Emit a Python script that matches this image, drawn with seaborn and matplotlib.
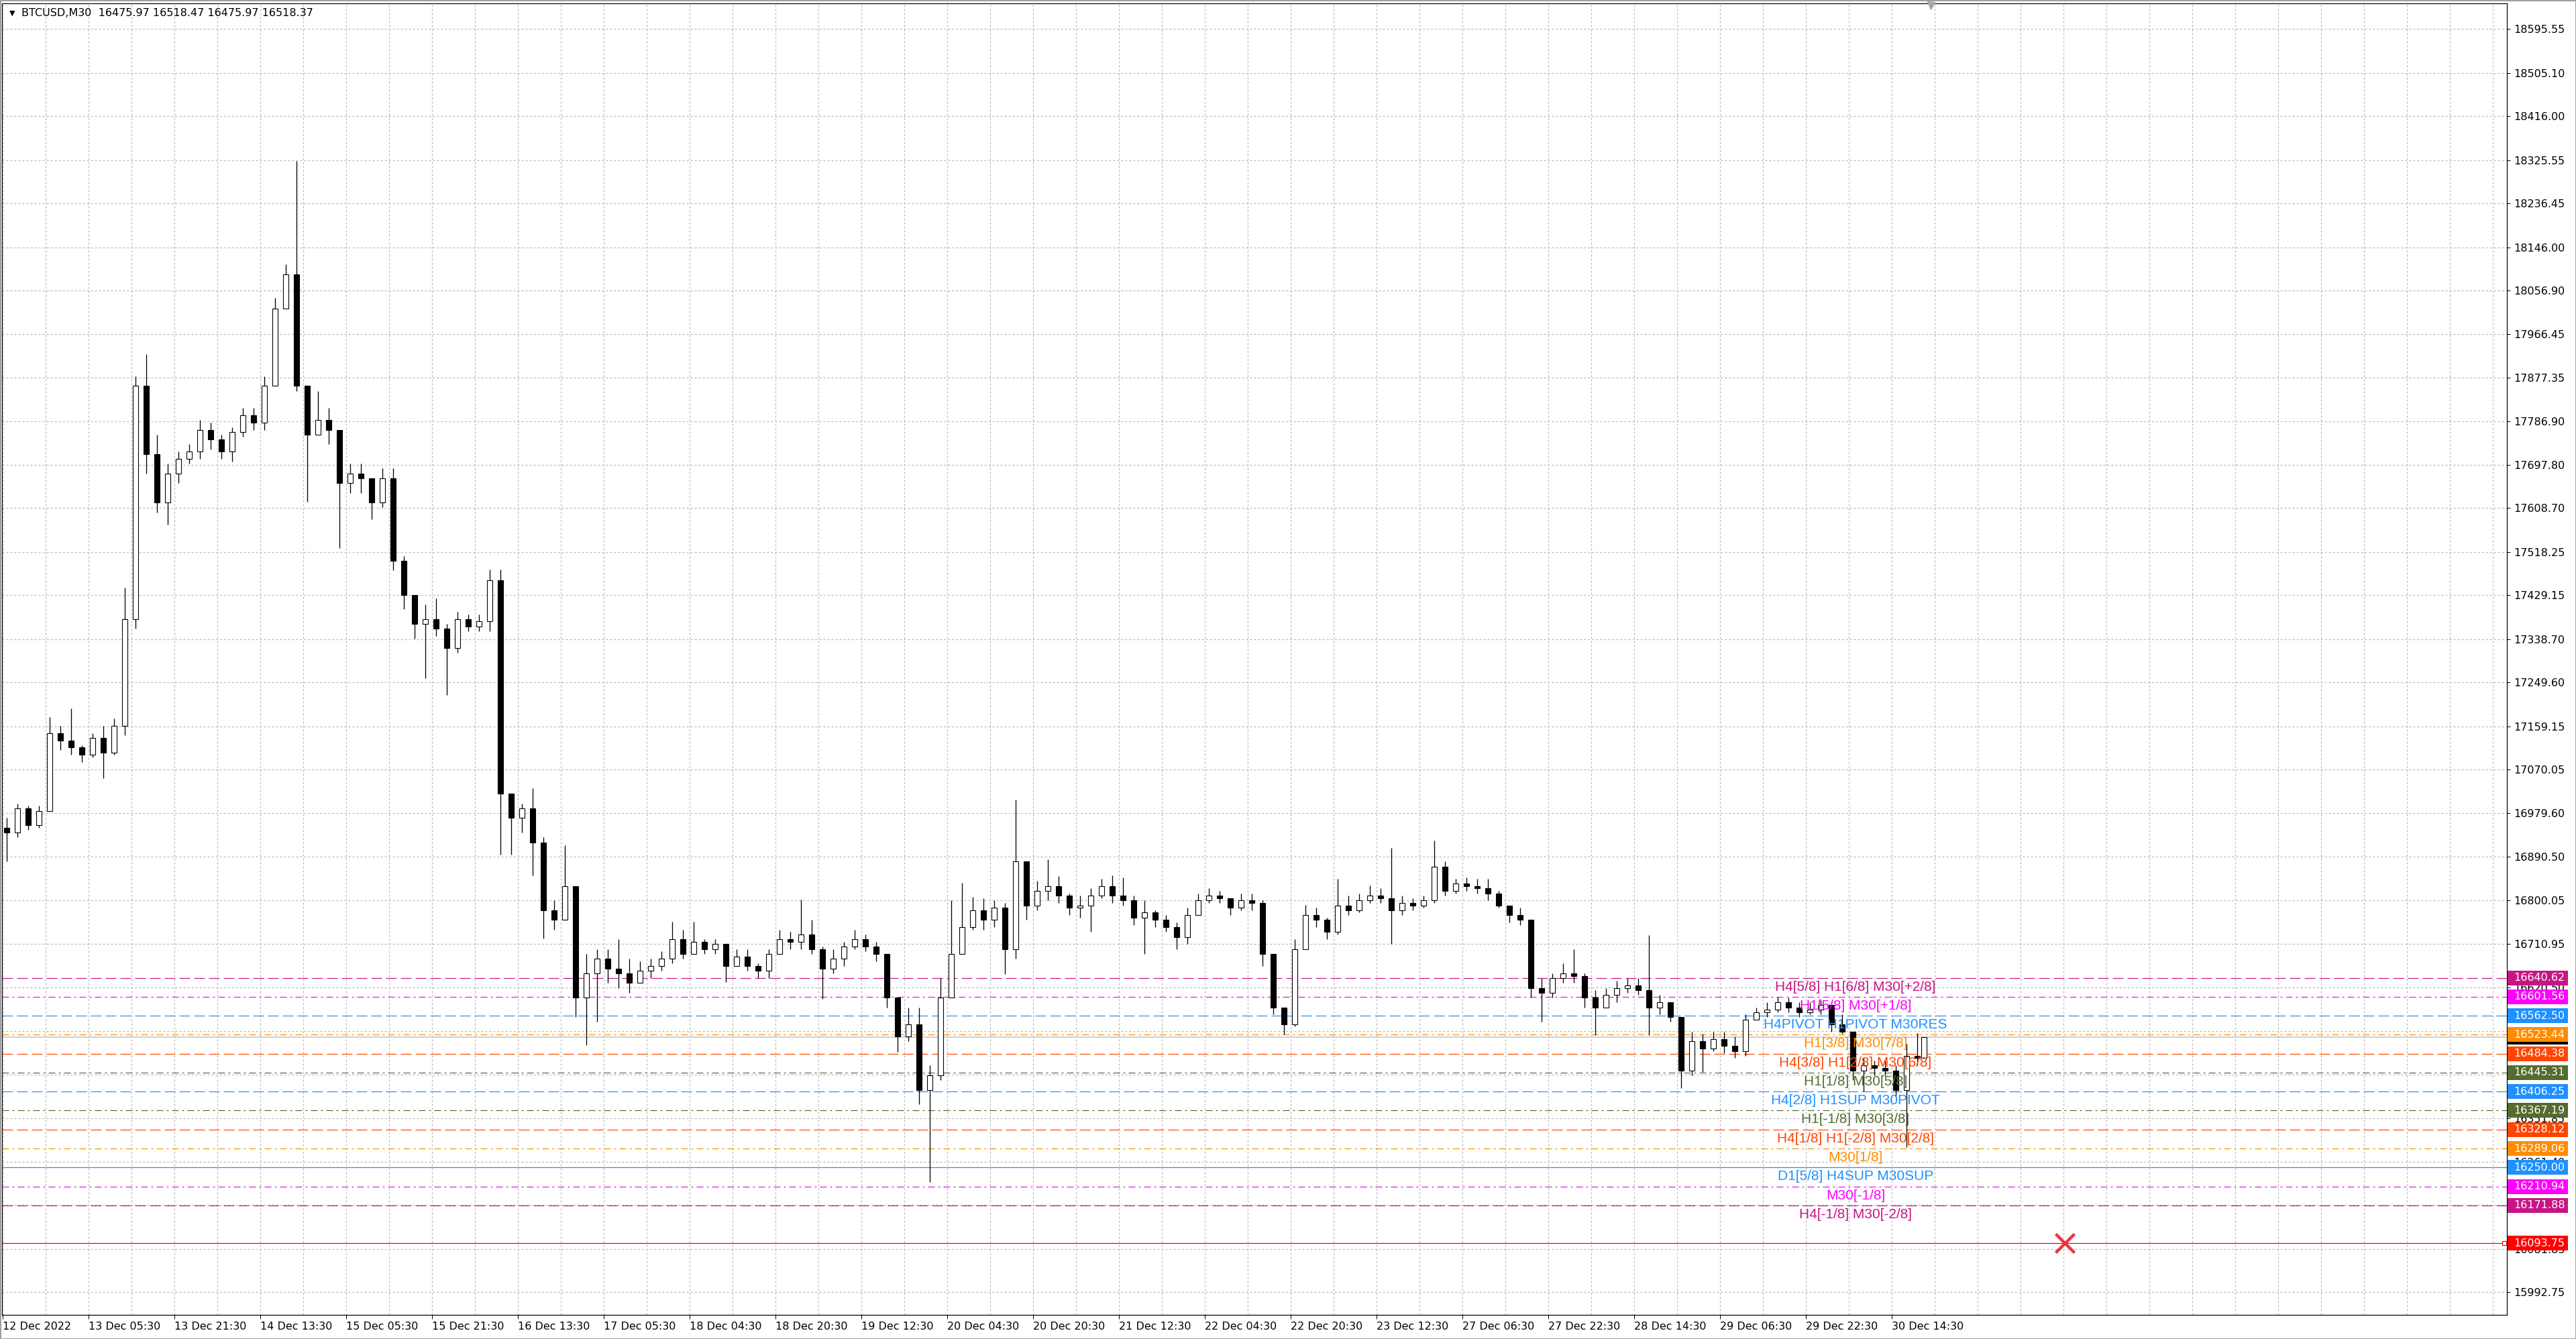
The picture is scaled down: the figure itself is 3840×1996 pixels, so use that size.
import numpy as np
import pandas as pd
import matplotlib
matplotlib.use("Agg")
import matplotlib.pyplot as plt
import matplotlib.transforms as mtransforms
from matplotlib.patches import Rectangle
import seaborn as sns

# ---------------------------------------------------------
# DATA  (BTCUSD M30 chart, candles read off the picture and
# grouped by 4 bars; x axis counts M30 bars)
# ---------------------------------------------------------
n_bars = 717
first_open = 16950.0

close_px = [16940, 16990, 16955, 16985, 17145, 17130, 17115, 17100, 17135, 17105,
            17160, 17380, 17860, 17720, 17620, 17680, 17710, 17725, 17770, 17750,
            17725, 17765, 17800, 17785, 17860, 18020, 18090, 17860, 17760, 17790,
            17770, 17660, 17680, 17670, 17620, 17670, 17500, 17430, 17370, 17380,
            17360, 17320, 17380, 17365, 17375, 17460, 17020, 16970, 16990, 16920,
            16780, 16760, 16830, 16600, 16650, 16680, 16660, 16650, 16630, 16655,
            16665, 16680, 16720, 16690, 16715, 16700, 16710, 16665, 16685, 16665,
            16655, 16690, 16720, 16715, 16730, 16700, 16660, 16680, 16705, 16720,
            16705, 16690, 16600, 16520, 16545, 16410, 16440, 16600, 16690, 16745,
            16780, 16760, 16785, 16700, 16880, 16790, 16820, 16830, 16810, 16785,
            16790, 16810, 16830, 16810, 16800, 16765, 16775, 16760, 16745, 16725,
            16770, 16800, 16810, 16805, 16785, 16800, 16795, 16690, 16580, 16545,
            16700, 16770, 16760, 16735, 16790, 16780, 16800, 16810, 16805, 16780,
            16795, 16790, 16800, 16870, 16820, 16835, 16830, 16825, 16815, 16790,
            16770, 16760, 16620, 16610, 16640, 16650, 16645, 16600, 16580, 16605,
            16620, 16625, 16615, 16580, 16590, 16560, 16450, 16510, 16495, 16515,
            16500, 16490, 16555, 16570, 16575, 16590, 16580, 16570, 16575, 16585,
            16545, 16530, 16450, 16460, 16455, 16450, 16410, 16480, 16475.97, 16518.37]

high_px = [16970, 17000, 16995, 16995, 17178, 17160, 17196, 17120, 17145, 17160,
           17175, 17444, 17880, 17925, 17760, 17700, 17725, 17740, 17790, 17785,
           17760, 17775, 17815, 17815, 17880, 18042, 18111, 18324, 17860, 17849,
           17815, 17770, 17700, 17700, 17665, 17690, 17690, 17510, 17430, 17410,
           17423, 17370, 17395, 17390, 17390, 17482, 17482, 17000, 17000, 17031,
           16930, 16800, 16914, 16830, 16690, 16700, 16700, 16720, 16680, 16675,
           16680, 16695, 16756, 16740, 16756, 16720, 16720, 16710, 16700, 16700,
           16670, 16700, 16740, 16735, 16802, 16760, 16705, 16700, 16715, 16740,
           16730, 16715, 16690, 16600, 16580, 16580, 16460, 16640, 16800, 16837,
           16808, 16805, 16800, 16795, 17008, 16880, 16840, 16885, 16850, 16815,
           16810, 16825, 16845, 16851, 16848, 16810, 16800, 16780, 16770, 16755,
           16785, 16815, 16825, 16820, 16805, 16815, 16815, 16800, 16690, 16580,
           16720, 16791, 16785, 16765, 16845, 16810, 16815, 16831, 16825, 16908,
           16810, 16805, 16810, 16923, 16880, 16845, 16848, 16845, 16845, 16820,
           16790, 16785, 16760, 16640, 16650, 16670, 16699, 16650, 16615, 16620,
           16635, 16640, 16640, 16728, 16605, 16590, 16560, 16530, 16525, 16530,
           16530, 16520, 16565, 16580, 16590, 16602, 16600, 16590, 16590, 16595,
           16585, 16565, 16530, 16475, 16470, 16470, 16460, 16505, 16527, 16518.47]

low_px = [16880, 16930, 16945, 16950, 16990, 17110, 17100, 17085, 17095, 17052,
          17100, 17140, 17360, 17680, 17600, 17574, 17660, 17700, 17710, 17730,
          17710, 17705, 17755, 17770, 17770, 17880, 18040, 17850, 17622, 17760,
          17740, 17526, 17640, 17640, 17585, 17610, 17480, 17400, 17340, 17258,
          17345, 17224, 17310, 17355, 17355, 17355, 16894, 16894, 16940, 16852,
          16722, 16740, 16760, 16560, 16502, 16550, 16630, 16620, 16610, 16630,
          16640, 16655, 16670, 16680, 16690, 16690, 16690, 16632, 16665, 16655,
          16640, 16640, 16690, 16700, 16700, 16690, 16598, 16650, 16665, 16700,
          16695, 16675, 16580, 16488, 16510, 16380, 16220, 16430, 16620, 16700,
          16740, 16740, 16745, 16648, 16680, 16760, 16780, 16800, 16795, 16770,
          16765, 16736, 16805, 16795, 16790, 16750, 16690, 16745, 16736, 16700,
          16710, 16775, 16795, 16795, 16770, 16780, 16780, 16665, 16565, 16524,
          16540, 16700, 16745, 16720, 16730, 16770, 16775, 16795, 16795, 16711,
          16770, 16780, 16785, 16795, 16810, 16815, 16820, 16815, 16800, 16785,
          16755, 16750, 16600, 16550, 16600, 16630, 16630, 16580, 16522, 16585,
          16590, 16610, 16605, 16522, 16565, 16550, 16413, 16440, 16447, 16490,
          16485, 16476, 16480, 16555, 16560, 16570, 16570, 16560, 16565, 16565,
          16530, 16525, 16430, 16407, 16440, 16440, 16395, 16292, 16460, 16475.97]

time_labels = ["12 Dec 2022", "13 Dec 05:30", "13 Dec 21:30", "14 Dec 13:30", "15 Dec 05:30",
               "15 Dec 21:30", "16 Dec 13:30", "17 Dec 05:30", "18 Dec 04:30", "18 Dec 20:30",
               "19 Dec 12:30", "20 Dec 04:30", "20 Dec 20:30", "21 Dec 12:30", "22 Dec 04:30",
               "22 Dec 20:30", "23 Dec 12:30", "27 Dec 06:30", "27 Dec 22:30", "28 Dec 14:30",
               "29 Dec 06:30", "29 Dec 22:30", "30 Dec 14:30"]

price_ticks = [18595.55, 18505.10, 18416.00, 18325.55, 18236.45, 18146.00, 18056.90,
               17966.45, 17877.35, 17786.90, 17697.80, 17608.70, 17518.25, 17429.15,
               17338.70, 17249.60, 17159.15, 17070.05, 16979.60, 16890.50, 16800.05,
               16710.95, 16620.50, 16531.40, 16440.95, 16351.85, 16261.40, 16172.30,
               16081.85, 15992.75]

level_prices = [16640.62, 16601.56, 16562.50, 16523.44, 16484.38, 16445.31, 16406.25,
                16367.19, 16328.12, 16289.06, 16250.00, 16210.94, 16171.88]
level_texts = ["H4[5/8] H1[6/8] M30[+2/8]", "H1[5/8] M30[+1/8]", "H4PIVOT H1PIVOT M30RES",
               "H1[3/8] M30[7/8]", "H4[3/8] H1[2/8] M30[6/8]", "H1[1/8] M30[5/8]",
               "H4[2/8] H1SUP M30PIVOT", "H1[-1/8] M30[3/8]", "H4[1/8] H1[-2/8] M30[2/8]",
               "M30[1/8]", "D1[5/8] H4SUP M30SUP", "M30[-1/8]", "H4[-1/8] M30[-2/8]"]
level_colors = ["#C71585", "#FF00FF", "#1E90FF", "#FF8C00", "#FF4500", "#556B2F", "#1E90FF",
                "#556B2F", "#FF4500", "#FF8C00", "#1E90FF", "#FF00FF", "#C71585"]
level_kinds = ["dash", "dashdot", "dash", "dashdot", "dash", "dashdot", "dash",
               "dashdot", "dash", "dashdot", "solid", "dashdot", "dash"]

bid_price = 16518.37
stop_price = 16093.75
title_text = "BTCUSD,M30  16475.97 16518.47 16475.97 16518.37"

# ---------------------------------------------------------
# FIGURE SETUP (pixel geometry of the terminal window)
# ---------------------------------------------------------
sns.set_theme(style="white", rc={"axes.edgecolor": "black", "axes.linewidth": 0.8})
plt.rcParams['font.family'] = ['DejaVu Sans']
plt.rcParams['lines.scale_dashes'] = False

W, H = 3840, 1996
PX = 0.72  # one pixel in points at dpi 100
left, right, top, bottom = 3, 3737, 5, 1960
px_per_bar = 4.0
price_per_px = 1.3822
ref_price, ref_y = 15992.75, 1926.4


def y_to_price(y):
    return ref_price + (ref_y - y) * price_per_px


fig = plt.figure(figsize=(W / 100, H / 100), dpi=100)
ax = fig.add_axes([left / W, 1 - bottom / H, (right - left) / W, (bottom - top) / H])
ax.set_xlim((left - 4) / px_per_bar, (right - 4) / px_per_bar)
ax.set_ylim(y_to_price(bottom), y_to_price(top))
ax.set_facecolor("white")

grid_kw = dict(color="#B8B8B8", lw=1.2 * PX, ls=(0, (3 * PX, 3 * PX)), zorder=0)
for p in price_ticks:
    ax.axhline(p, **grid_kw)
for b in range(0, 940, 16):
    ax.axvline(b, **grid_kw)

# candles
opens = np.array([first_open] + close_px[:-1], dtype=float)
closes = np.array(close_px, dtype=float)
highs = np.array(high_px, dtype=float)
lows = np.array(low_px, dtype=float)
xs = np.minimum(np.arange(len(closes)) * 4 + 1.5, n_bars - 1)
bull = closes >= opens

ax.vlines(xs, lows, highs, color="black", lw=1.3 * PX, zorder=3)
body_lo = np.minimum(opens, closes)
body_h = np.maximum(np.abs(closes - opens), 1.5)
ax.bar(xs, body_h, bottom=body_lo, width=1.9,
       color=np.where(bull, "white", "black"), edgecolor="black", linewidth=1.1 * PX, zorder=4)

# murrey levels
styles = {"dash": (0, (16 * PX, 6 * PX)), "dashdot": (0, (10 * PX, 5 * PX, 3 * PX, 5 * PX)), "solid": "-"}
for p, t, c, k in zip(level_prices, level_texts, level_colors, level_kinds):
    ax.axhline(p, color=c, ls=styles[k], lw=1.2 * PX, zorder=2)
    ax.text(690.5, p - 4 * price_per_px, t, color=c, ha="center", va="top",
            fontsize=15, family=["Liberation Sans", "DejaVu Sans"], zorder=5)

# bid line and stop line
xl = ax.get_xlim()
sns.lineplot(x=[xl[0], xl[1]], y=[bid_price, bid_price], ax=ax, color="#C0C0C0",
             lw=1.5 * PX, zorder=2)
ax.axhline(stop_price, color="#FF0000", lw=1.2 * PX, zorder=2)
ax.plot([(3733 - 4) / 4], [stop_price], marker="s", ms=6 * PX, mfc="white",
        mec="#FF0000", mew=1.2 * PX, zorder=6, clip_on=False)
ax.plot([768.5], [stop_price], marker="x", ms=28 * PX, mew=4.5 * PX, color="#E8383D", zorder=6)
ax.plot([718.5], [y_to_price(top + 3)], marker="v", ms=11 * PX, color="#A8A8A8",
        zorder=6, clip_on=False)

# axes, ticks
ax.yaxis.tick_right()
ax.set_yticks(price_ticks)
ax.set_yticklabels([f"{v:.2f}" for v in price_ticks])
ax.tick_params(axis="y", length=5 * PX, width=1 * PX, pad=5 * PX, labelsize=11.5,
               colors="black", right=True, left=False)
ax.set_xticks(np.arange(len(time_labels)) * 32)
ax.set_xticklabels(time_labels)
ax.tick_params(axis="x", length=6 * PX, width=1 * PX, pad=4 * PX, labelsize=11.5,
               colors="black", bottom=True)
for lab in ax.get_xticklabels():
    lab.set_ha("left")
for s in ax.spines.values():
    s.set_color("black")
    s.set_linewidth(1.2 * PX)
ax.set_xlabel("")
ax.set_ylabel("")

# right-hand price boxes (each box and its text stacked above the previous one)
box_tr = mtransforms.blended_transform_factory(fig.transFigure, ax.transData)
box_h = 22 * price_per_px
# bid marker sits underneath the level boxes, only its edge shows
ax.add_patch(Rectangle((3738 / W, bid_price - box_h / 2), 90 / W, box_h, transform=box_tr,
                       facecolor="black", edgecolor="none", clip_on=False, zorder=6))
box_prices = level_prices + [stop_price]
box_colors = level_colors + ["#FF0000"]
for i, (p, c) in enumerate(zip(box_prices, box_colors)):
    z = 7 + 2 * i
    ax.add_patch(Rectangle((3738 / W, p - box_h / 2), 90 / W, box_h, transform=box_tr,
                           facecolor=c, edgecolor="none", clip_on=False, zorder=z))
    ax.text(3747 / W, p, f"{p:.2f}", transform=box_tr, color="white", fontsize=11.5,
            ha="left", va="center", clip_on=False, zorder=z + 1)

# title and window frame
fig.text(14 / W, 1 - 20 / H, "\u25BC", fontsize=8, va="center", ha="left", color="black")
fig.text(32 / W, 1 - 20 / H, title_text, fontsize=11.5, va="center", ha="left", color="black")
fig.patches.append(Rectangle((0, 0), 1, 1, transform=fig.transFigure, fill=False,
                             edgecolor="#A0A0A0", lw=3 * PX))

fig.savefig("out.png", dpi=100, facecolor="white")
